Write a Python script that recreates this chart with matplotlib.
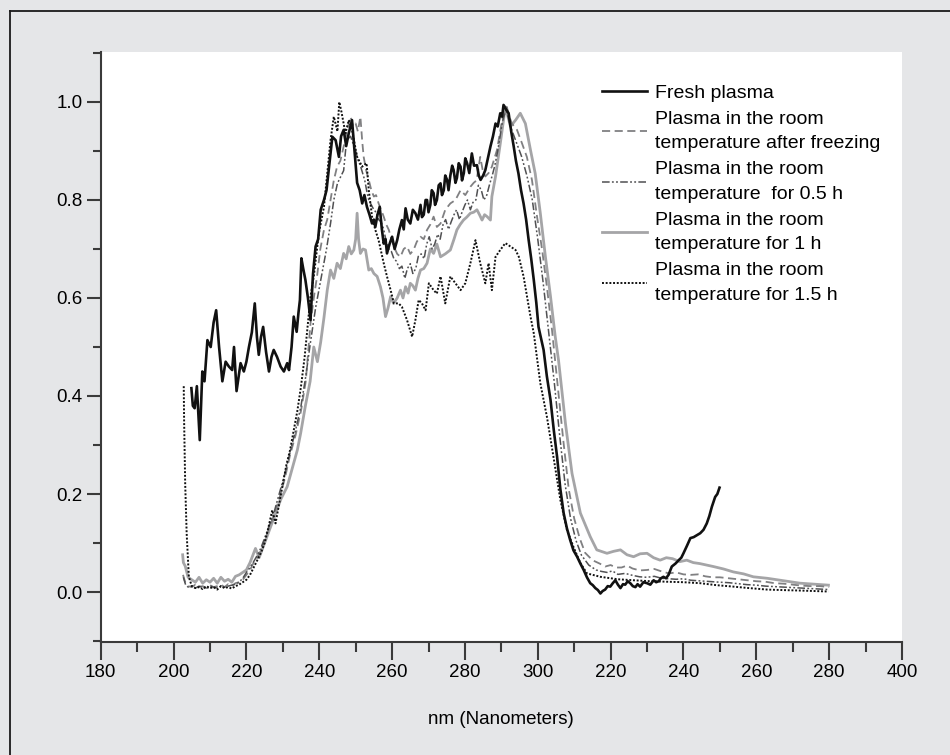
import numpy as np
import matplotlib
matplotlib.use("Agg")
import matplotlib.pyplot as plt
from matplotlib.lines import Line2D

plt.rcParams['font.family'] = ['Liberation Sans', 'DejaVu Sans']

# ---------------- data ----------------
x_ticks = [180, 200, 220, 240, 260, 280, 300, 320, 340, 360, 380, 400]
x_tick_labels = ['180', '200', '220', '240', '260', '280', '300',
                 '220', '240', '260', '280', '400']
y_ticks = [0.0, 0.2, 0.4, 0.6, 0.8, 1.0]
y_tick_labels = ['0.0', '0.2', '0.4', '0.6', '0.8', '1.0']
x_label = 'nm (Nanometers)'

labels = ['Fresh plasma',
          'Plasma in the room\ntemperature after freezing',
          'Plasma in the room\ntemperature  for 0.5 h',
          'Plasma in the room\ntemperature for 1 h',
          'Plasma in the room\ntemperature for 1.5 h']

fresh_xy = [
    (204.9, 0.416), (205.3, 0.38), (205.8, 0.375), (206.4, 0.42), (207.2, 0.31),
    (207.9, 0.45), (208.5, 0.43), (209.3, 0.514), (210.2, 0.50), (211.0, 0.55),
    (211.7, 0.575), (212.5, 0.50), (213.4, 0.43), (214.3, 0.47), (215.2, 0.46),
    (216.1, 0.453), (216.6, 0.50), (217.3, 0.41), (218.4, 0.467), (219.3, 0.45),
    (220.0, 0.47), (220.7, 0.50), (221.5, 0.53), (222.3, 0.589), (222.9, 0.52),
    (223.4, 0.484), (224.0, 0.52), (224.6, 0.541), (225.4, 0.49), (226.2, 0.45),
    (226.9, 0.48), (227.5, 0.494), (228.4, 0.48), (229.4, 0.46), (230.3, 0.45),
    (231.2, 0.467), (231.7, 0.453), (232.4, 0.50), (233.0, 0.562), (233.8, 0.531),
    (234.3, 0.57), (234.7, 0.596), (235.1, 0.681), (235.6, 0.66), (236.2, 0.637),
    (236.9, 0.60), (237.6, 0.555), (238.3, 0.65), (239.0, 0.705), (239.7, 0.72),
    (240.4, 0.78), (241.3, 0.80), (242.0, 0.82), (242.6, 0.861), (243.6, 0.929),
    (244.5, 0.922), (245.4, 0.888), (246.0, 0.93), (246.7, 0.943), (247.4, 0.91),
    (248.1, 0.936), (249.0, 0.963), (249.7, 0.90), (250.4, 0.835), (251.1, 0.82),
    (251.8, 0.793), (252.4, 0.81), (253.1, 0.786), (253.8, 0.77), (254.5, 0.752),
    (255.0, 0.76), (255.4, 0.745), (256.0, 0.77), (256.6, 0.786), (257.2, 0.74),
    (257.7, 0.711), (258.2, 0.72), (258.6, 0.691), (259.3, 0.71), (260.0, 0.725),
    (260.7, 0.70), (261.4, 0.718), (262.0, 0.74), (262.7, 0.759), (263.2, 0.74),
    (263.7, 0.783), (264.3, 0.76), (265.0, 0.752), (265.7, 0.78), (266.4, 0.773),
    (267.1, 0.76), (267.8, 0.790), (268.2, 0.765), (268.7, 0.77), (269.2, 0.80),
    (269.6, 0.80), (270.0, 0.775), (270.5, 0.79), (270.9, 0.82), (271.4, 0.814),
    (271.8, 0.79), (272.3, 0.80), (272.8, 0.83), (273.3, 0.834), (273.7, 0.81),
    (274.2, 0.82), (274.6, 0.85), (275.1, 0.841), (275.5, 0.82), (276.0, 0.85),
    (276.5, 0.87), (276.9, 0.861), (277.4, 0.835), (277.8, 0.845), (278.3, 0.875),
    (278.8, 0.868), (279.2, 0.84), (279.7, 0.855), (280.1, 0.885), (280.6, 0.875),
    (281.2, 0.855), (281.9, 0.895), (282.5, 0.87), (283.3, 0.871), (283.8, 0.85),
    (284.3, 0.841), (285.0, 0.85), (285.6, 0.861), (286.3, 0.885), (287.0, 0.909),
    (287.7, 0.93), (288.4, 0.956), (289.0, 0.95), (289.7, 0.977), (290.2, 0.97),
    (290.6, 0.994), (291.3, 0.985), (292.0, 0.977), (292.7, 0.94), (293.4, 0.909),
    (294.0, 0.88), (294.7, 0.854), (295.4, 0.82), (296.1, 0.793), (296.8, 0.76),
    (297.5, 0.718), (298.2, 0.68), (298.9, 0.637), (299.6, 0.59), (300.2, 0.541),
    (301.6, 0.494), (302.5, 0.44), (303.5, 0.392), (304.4, 0.33), (305.3, 0.276),
    (306.2, 0.21), (307.1, 0.161), (308.0, 0.13), (308.9, 0.106), (309.8, 0.085),
    (310.8, 0.072), (311.7, 0.058), (312.6, 0.045), (313.5, 0.03), (314.4, 0.018),
    (315.1, 0.014), (315.8, 0.008), (316.5, 0.004), (317.2, -0.003), (317.8, 0.002),
    (318.5, 0.005), (319.2, 0.012), (319.9, 0.011), (320.6, 0.018), (321.3, 0.024),
    (322.0, 0.015), (322.7, 0.008), (323.4, 0.016), (324.0, 0.015), (324.7, 0.022),
    (325.4, 0.018), (326.1, 0.012), (326.8, 0.010), (327.4, 0.016), (328.1, 0.011),
    (329.0, 0.02), (330.0, 0.018), (330.9, 0.015), (331.8, 0.024), (332.5, 0.02),
    (333.2, 0.022), (333.8, 0.028), (334.5, 0.031), (335.2, 0.028), (335.9, 0.035),
    (336.8, 0.052), (337.8, 0.058), (338.7, 0.065), (339.4, 0.07), (340.0, 0.079),
    (341.0, 0.095), (341.9, 0.110), (342.8, 0.112), (343.7, 0.116), (344.6, 0.12),
    (345.5, 0.127), (346.4, 0.140), (347.1, 0.155), (347.8, 0.174), (348.7, 0.194),
    (349.3, 0.20), (349.9, 0.213),
]

freezing_xy = [
    (202.6, 0.035), (203.2, 0.02), (204, 0.012), (205, 0.010), (206, 0.015),
    (207, 0.010), (208, 0.012), (209, 0.008), (210, 0.014), (211, 0.010),
    (212, 0.012), (213, 0.015), (214, 0.010), (215, 0.016), (216, 0.012),
    (217, 0.018), (218, 0.020), (219, 0.025), (220, 0.035), (221, 0.045),
    (222, 0.060), (223, 0.070), (224, 0.085), (225, 0.105), (226, 0.125),
    (227.5, 0.155), (229, 0.19), (230.5, 0.23), (232, 0.28), (233.5, 0.32),
    (235, 0.37), (236.3, 0.43), (237.6, 0.548), (238.5, 0.60), (239.4, 0.644),
    (240.3, 0.70), (241.3, 0.739), (242.2, 0.76), (243.1, 0.80), (244.0, 0.84),
    (244.9, 0.868), (245.8, 0.88), (246.7, 0.909), (247.6, 0.94), (248.6, 0.970),
    (249.3, 0.95), (250.0, 0.956), (250.6, 0.94), (251.3, 0.970), (251.8, 0.92),
    (252.2, 0.888), (252.9, 0.86), (253.6, 0.841), (254.3, 0.82), (255.0, 0.807),
    (255.6, 0.81), (256.3, 0.793), (257.0, 0.78), (257.7, 0.766), (258.4, 0.75),
    (259.1, 0.739), (259.8, 0.72), (260.5, 0.705), (261.4, 0.69), (262.3, 0.684),
    (263.2, 0.70), (264.1, 0.705), (265.0, 0.69), (265.9, 0.698), (266.8, 0.715),
    (267.8, 0.725), (268.7, 0.72), (269.6, 0.739), (270.5, 0.75), (271.4, 0.766),
    (272.3, 0.745), (273.3, 0.752), (274.6, 0.78), (276.0, 0.793), (277.4, 0.80),
    (278.8, 0.82), (280.1, 0.81), (281.5, 0.827), (282.4, 0.835), (283.2, 0.84),
    (284.2, 0.888), (284.9, 0.86), (285.6, 0.848), (286.5, 0.855), (287.4, 0.868),
    (288.8, 0.902), (290.2, 0.963), (291.5, 0.990), (292.2, 0.97), (292.9, 0.956),
    (294.3, 0.943), (295.7, 0.915), (297.0, 0.888), (298.4, 0.841), (299.8, 0.766),
    (301.2, 0.698), (302.5, 0.623), (303.9, 0.535), (305.5, 0.42), (307, 0.31),
    (308.5, 0.21), (310, 0.15), (311.5, 0.11), (313, 0.08), (315, 0.065),
    (317, 0.058), (318.5, 0.052), (320, 0.055), (321.5, 0.05), (323, 0.050),
    (324.5, 0.054), (326, 0.048), (328, 0.044), (330, 0.045), (332, 0.047),
    (334, 0.042), (336, 0.038), (338, 0.040), (340, 0.036), (342, 0.035),
    (344, 0.036), (346, 0.032), (348, 0.030), (350, 0.030), (352.5, 0.028),
    (355, 0.026), (357.5, 0.024), (360, 0.022), (362.5, 0.021), (365, 0.018),
    (367.5, 0.017), (370, 0.015), (372.5, 0.013), (375, 0.012), (377.5, 0.012),
    (380, 0.010),
]

half_hour_xy = [
    (202.7, 0.03), (203.3, 0.015), (204, 0.010), (205, 0.012), (206, 0.008),
    (207, 0.012), (208, 0.010), (209, 0.006), (210, 0.012), (211, 0.010),
    (212, 0.008), (213, 0.012), (214, 0.010), (215, 0.012), (216, 0.014),
    (217, 0.016), (218, 0.020), (219, 0.028), (220, 0.040), (221, 0.050),
    (222, 0.062), (223, 0.075), (224, 0.090), (225, 0.110), (226, 0.130),
    (227.5, 0.16), (229, 0.20), (230.5, 0.24), (232, 0.285), (233.5, 0.33),
    (235, 0.38), (236.3, 0.44), (237.6, 0.51), (239, 0.58), (240.5, 0.64),
    (242, 0.70), (243.1, 0.752), (244.0, 0.80), (245.0, 0.834), (246.7, 0.86),
    (247.5, 0.922), (248.6, 0.93), (250.0, 0.90), (250.7, 0.88), (251.3, 0.87),
    (251.9, 0.855), (252.5, 0.84), (253.0, 0.82), (253.6, 0.80), (254.3, 0.79),
    (255.0, 0.78), (255.6, 0.775), (256.3, 0.76), (257.0, 0.755), (257.7, 0.74),
    (258.4, 0.715), (259.1, 0.70), (259.8, 0.695), (260.5, 0.68), (261.2, 0.675),
    (262.0, 0.66), (262.7, 0.665), (263.5, 0.64), (264.2, 0.66), (265.0, 0.67),
    (265.7, 0.65), (266.5, 0.66), (267.2, 0.685), (268.0, 0.69), (268.8, 0.68),
    (269.5, 0.71), (270.2, 0.725), (271.0, 0.70), (271.7, 0.71), (272.5, 0.73),
    (273.2, 0.72), (274.0, 0.75), (274.7, 0.76), (275.5, 0.74), (276.2, 0.755),
    (277.0, 0.77), (277.7, 0.78), (278.5, 0.76), (279.2, 0.775), (280.0, 0.79),
    (280.7, 0.80), (281.5, 0.78), (282.2, 0.795), (283.0, 0.80), (283.7, 0.83),
    (284.5, 0.82), (285.2, 0.80), (286.0, 0.81), (286.7, 0.83), (287.5, 0.85),
    (288.2, 0.87), (289.0, 0.90), (290.3, 0.96), (291.3, 0.985), (292.5, 0.95),
    (294, 0.92), (295.5, 0.89), (297, 0.85), (298.5, 0.80), (300, 0.72),
    (301.5, 0.63), (303, 0.53), (304.5, 0.43), (306, 0.32), (307.5, 0.22),
    (309, 0.15), (310.5, 0.105), (312, 0.075), (314, 0.055), (316, 0.045),
    (317.5, 0.042), (319, 0.040), (320.5, 0.043), (322, 0.036), (324, 0.038),
    (326, 0.034), (328, 0.031), (330, 0.030), (332, 0.032), (334, 0.028),
    (336, 0.027), (338, 0.026), (340, 0.027), (342, 0.024), (344, 0.023),
    (346, 0.022), (348, 0.021), (350, 0.020), (352.5, 0.019), (355, 0.017),
    (357.5, 0.015), (360, 0.014), (362.5, 0.012), (365, 0.011), (367.5, 0.010),
    (370, 0.009), (372.5, 0.008), (375, 0.007), (377.5, 0.006), (380, 0.005),
]

one_hour_xy = [
    (202.5, 0.076), (202.7, 0.06), (203.2, 0.053), (204, 0.030), (205, 0.025),
    (206, 0.020), (207, 0.030), (208, 0.018), (209, 0.025), (210, 0.020),
    (211, 0.028), (212, 0.018), (213, 0.030), (214, 0.022), (215, 0.026),
    (216, 0.020), (217, 0.032), (218, 0.035), (219, 0.040), (220, 0.045),
    (221, 0.060), (222.5, 0.089), (223.5, 0.070), (225, 0.100), (226.5, 0.130),
    (228, 0.160), (229.5, 0.190), (231.2, 0.215), (232.5, 0.250), (234, 0.290),
    (234.9, 0.324), (236.2, 0.38), (237.5, 0.43), (238.5, 0.50), (239.5, 0.47),
    (240.4, 0.51), (241.3, 0.56), (242.2, 0.616), (243.1, 0.657), (244.0, 0.64),
    (244.9, 0.671), (245.8, 0.66), (246.7, 0.691), (247.4, 0.68), (248.1, 0.705),
    (248.8, 0.69), (249.5, 0.698), (250.0, 0.72), (250.4, 0.773), (250.8, 0.72),
    (251.3, 0.691), (252.0, 0.70), (252.7, 0.698), (253.6, 0.657), (254.3, 0.66),
    (255.0, 0.650), (255.9, 0.644), (256.8, 0.623), (257.5, 0.60), (258.2, 0.562),
    (258.9, 0.58), (259.6, 0.603), (260.4, 0.589), (261.4, 0.60), (262.3, 0.616),
    (263.0, 0.60), (263.7, 0.623), (264.4, 0.61), (265.0, 0.63), (265.7, 0.625),
    (266.4, 0.616), (267.1, 0.64), (267.8, 0.657), (268.7, 0.66), (269.6, 0.671),
    (270.5, 0.70), (271.4, 0.691), (272.3, 0.71), (273.3, 0.684), (274.6, 0.69),
    (276.0, 0.698), (277.0, 0.72), (277.8, 0.739), (278.7, 0.75), (279.6, 0.759),
    (280.5, 0.765), (281.5, 0.773), (282.4, 0.775), (283.3, 0.78), (284.0, 0.77),
    (284.7, 0.759), (285.4, 0.77), (286.1, 0.766), (287.0, 0.759), (287.4, 0.807),
    (288.4, 0.848), (289.7, 0.915), (291.1, 0.990), (292.5, 0.950), (293.9, 0.963),
    (295.2, 0.977), (296.6, 0.956), (298.0, 0.902), (299.3, 0.854), (300.7, 0.773),
    (302.1, 0.684), (303.5, 0.603), (304.8, 0.521), (305.7, 0.473), (307.6, 0.344),
    (309.4, 0.242), (311.7, 0.161), (314.4, 0.113), (316.2, 0.086), (319.0, 0.079),
    (320.8, 0.083), (322.7, 0.086), (324.5, 0.076), (326.3, 0.072), (328.1, 0.078),
    (330.0, 0.079), (331.8, 0.07), (333.6, 0.065), (335.3, 0.07), (337.0, 0.068),
    (339.0, 0.062), (340.9, 0.065), (342.7, 0.06), (344.5, 0.058), (346.4, 0.055),
    (348.2, 0.052), (351.0, 0.047), (353.7, 0.041), (356.5, 0.037), (359.2, 0.031),
    (363.0, 0.028), (366.6, 0.024), (369.3, 0.021), (372.0, 0.018), (376.0, 0.016),
    (379.8, 0.014),
]

one_half_hour_xy = [
    (202.8, 0.42), (202.9, 0.35), (203.2, 0.22), (203.6, 0.12), (204.2, 0.031),
    (205.0, 0.012), (206, 0.008), (207, 0.010), (208, 0.006), (209, 0.012),
    (210, 0.008), (211, 0.010), (212, 0.005), (213, 0.012), (214, 0.008),
    (215, 0.010), (216, 0.007), (217, 0.012), (218, 0.015), (219, 0.020),
    (220, 0.025), (221, 0.035), (222, 0.050), (223, 0.065), (224, 0.080),
    (225, 0.100), (226, 0.130), (227.1, 0.167), (228, 0.140), (229, 0.180),
    (230, 0.220), (231, 0.260), (232, 0.290), (233, 0.330), (234, 0.370),
    (235, 0.420), (236, 0.480), (237.6, 0.603), (238.5, 0.644), (239.9, 0.732),
    (241.3, 0.786), (242.2, 0.854), (243.1, 0.922), (244.0, 0.970), (245.0, 0.940),
    (245.5, 1.000), (246.1, 0.980), (247.2, 0.936), (248.1, 0.963), (249.0, 0.943),
    (250.4, 0.888), (251.8, 0.868), (253.0, 0.875), (253.6, 0.820), (254.5, 0.766),
    (255.4, 0.739), (256.3, 0.718), (257.7, 0.671), (258.6, 0.644), (259.6, 0.616),
    (260.5, 0.589), (261.8, 0.589), (262.7, 0.582), (264.1, 0.555), (265.5, 0.521),
    (266.4, 0.555), (267.3, 0.596), (268.2, 0.589), (269.2, 0.575), (270.1, 0.630),
    (271.4, 0.616), (272.3, 0.609), (273.3, 0.644), (274.6, 0.589), (276.0, 0.644),
    (277.4, 0.630), (278.8, 0.616), (280.1, 0.630), (281.5, 0.671), (282.9, 0.718),
    (284.2, 0.671), (285.6, 0.630), (286.5, 0.671), (287.4, 0.616), (288.4, 0.684),
    (289.7, 0.698), (291.1, 0.712), (292.5, 0.705), (293.9, 0.698), (294.8, 0.684),
    (296.1, 0.644), (298.0, 0.562), (298.9, 0.528), (300.7, 0.426), (302.5, 0.358),
    (304.3, 0.276), (306.2, 0.188), (308.0, 0.127), (309.8, 0.092), (311.7, 0.059),
    (313.5, 0.038), (317.2, 0.031), (322.0, 0.026), (326.3, 0.024), (331.0, 0.022),
    (335.4, 0.021), (340.0, 0.020), (344.6, 0.018), (349.0, 0.014), (353.7, 0.011),
    (358.0, 0.008), (362.9, 0.005), (367.0, 0.004), (372.0, 0.003), (376.0, 0.002),
    (379.8, 0.001),
]

# ---------------- figure ----------------
W, H = 950, 755
fig = plt.figure(figsize=(W / 100, H / 100), dpi=100, facecolor='#e5e6e8')
ax = fig.add_axes([100.7 / W, 1 - 641.7 / H, (902 - 100.7) / W, (641.7 - 52) / H])
ax.set_facecolor('white')

# outer frame lines (top and left)
fig.add_artist(Line2D([10 / W, 1.0], [1 - 11 / H, 1 - 11 / H], transform=fig.transFigure,
                      color='#1a1a1a', lw=1.3))
fig.add_artist(Line2D([10 / W, 10 / W], [0.0, 1 - 11 / H], transform=fig.transFigure,
                      color='#1a1a1a', lw=1.3))


def arr(p):
    a = np.array(p, dtype=float)
    return a[:, 0], a[:, 1]


h4, = ax.plot(*arr(one_hour_xy), color='#a5a5a7', lw=2.0, solid_joinstyle='round')
h2, = ax.plot(*arr(freezing_xy), color='#808082', lw=1.3, dashes=(4.5, 2.5))
h3, = ax.plot(*arr(half_hour_xy), color='#505052', lw=1.1,
              dashes=(5, 1.5, 1.2, 1.5, 1.2, 1.5))
h5, = ax.plot(*arr(one_half_hour_xy), color='#111111', lw=1.4, dashes=(1, 0.9))
h1, = ax.plot(*arr(fresh_xy), color='#111111', lw=1.9)

ax.set_xlim(180, 400)
ax.set_ylim(-0.1014, 1.102)

for s in ['top', 'right']:
    ax.spines[s].set_visible(False)
for s in ['left', 'bottom']:
    ax.spines[s].set_color('#3a3a3a')
    ax.spines[s].set_linewidth(1.5)

ax.set_xticks(x_ticks)
ax.set_xticklabels(x_tick_labels, fontsize=13.5)
ax.set_xticks(np.arange(190, 400, 20), minor=True)
ax.set_yticks(y_ticks)
ax.set_yticklabels(y_tick_labels, fontsize=13.5)
ax.set_yticks(np.arange(-0.1, 1.15, 0.2), minor=True)

ax.tick_params(axis='x', which='major', direction='out', length=13, width=1.5,
               color='#3a3a3a', pad=3)
ax.tick_params(axis='x', which='minor', direction='out', length=7, width=1.5,
               color='#3a3a3a')
ax.tick_params(axis='y', which='major', direction='out', length=10, width=1.5,
               color='#3a3a3a', pad=3)
ax.tick_params(axis='y', which='minor', direction='out', length=6, width=1.5,
               color='#3a3a3a')

ax.set_xlabel(x_label, fontsize=13.5, labelpad=22)

leg = ax.legend([h1, h2, h3, h4, h5], labels, loc='upper left',
                bbox_to_anchor=((602 - 100.7) / 801.3, (641.7 - 84) / 589.7),
                frameon=False, fontsize=14, handlelength=2.3, handletextpad=0.45,
                labelspacing=0.48, borderpad=0, borderaxespad=0)
for t in leg.get_texts():
    t.set_linespacing(1.55)

fig.savefig('out.png', dpi=100, facecolor=fig.get_facecolor())
